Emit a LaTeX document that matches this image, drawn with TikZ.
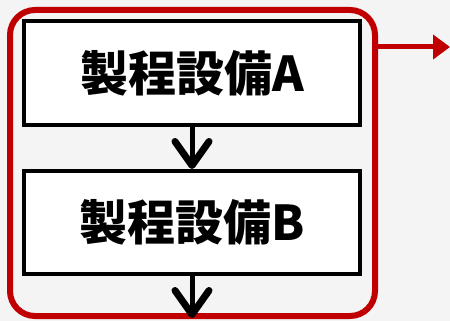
\documentclass[tikz,border=0pt]{standalone}
\usepackage{fontspec}
\newfontfamily\jp{Noto Sans CJK JP}
\usetikzlibrary{arrows.meta}
\definecolor{bgc}{RGB}{244,244,244}
\definecolor{darkred}{RGB}{192,0,0}
\tikzset{
  stepbox/.style={draw=black, fill=white, line width=4pt, minimum width=336pt, inner sep=0pt,
    font=\jp\bfseries\fontsize{48pt}{52pt}\selectfont},
  flowarrow/.style={line width=5pt, -{Straight Barb[length=24pt,width=34pt,round,line width=7pt]}},
  frame/.style={draw=darkred, line width=6pt, rounded corners=25pt},
  outarrow/.style={draw=darkred, line width=5pt, -{Triangle[length=17pt,width=24pt]}}
}
\begin{document}
\begin{tikzpicture}[x=1pt,y=-1pt]
\useasboundingbox (0,0) rectangle (450,321);
\fill[bgc] (0,0) rectangle (450,321);
\draw[frame] (10,10) rectangle (375,316);
\node[stepbox, minimum height=104pt] (A) at (192,73) {製程設備A};
\node[stepbox, minimum height=103pt] (B) at (192,222.5) {製程設備B};
\coordinate (bout) at (192,318);
\coordinate (r1) at (375,47);
\coordinate (r2) at (450,47);
\draw[flowarrow] (A.south) -- (B.north);
\draw[flowarrow] (B.south) -- (bout);
\draw[outarrow] (r1) -- (r2);
\end{tikzpicture}
\end{document}
